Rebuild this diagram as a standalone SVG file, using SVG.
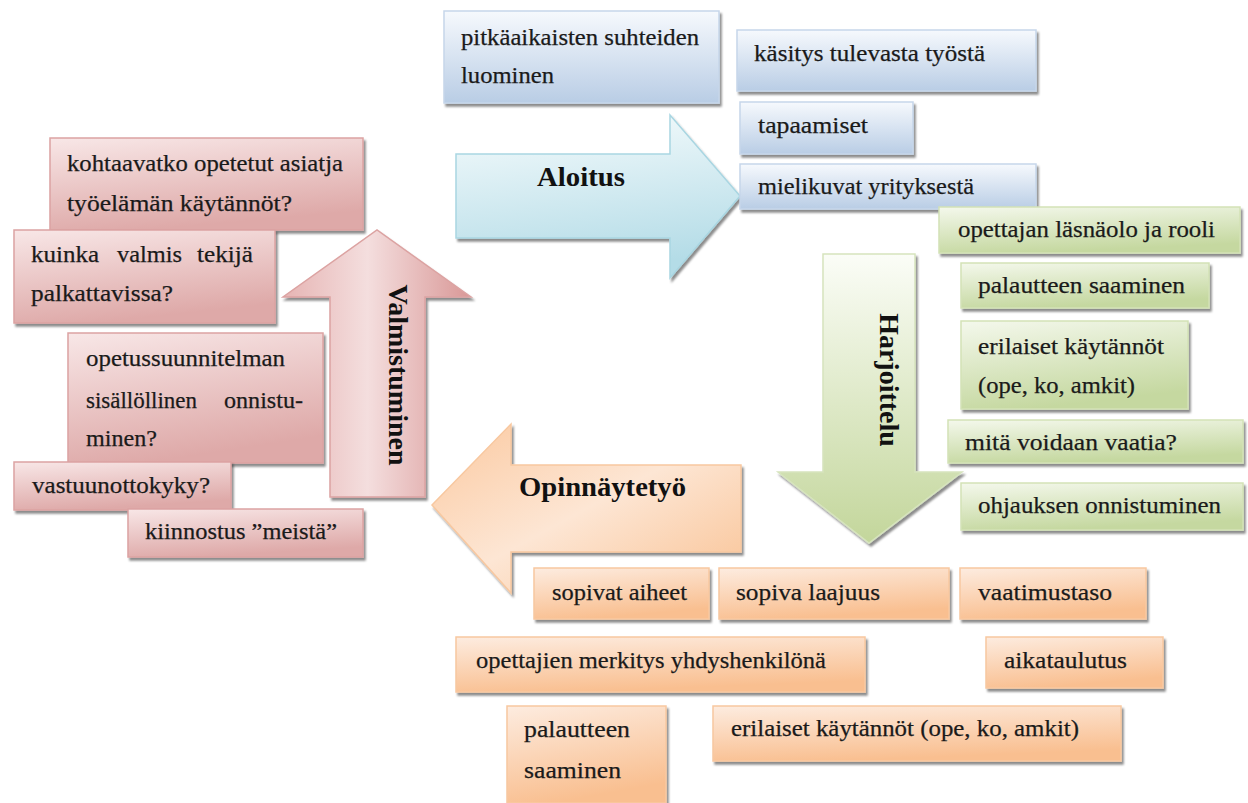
<svg xmlns="http://www.w3.org/2000/svg" width="1248" height="803" viewBox="0 0 1248 803">
<defs>
<filter id="sh" x="-10%" y="-10%" width="120%" height="130%">
<feDropShadow dx="2" dy="3" stdDeviation="1.2" flood-color="#000" flood-opacity="0.45"/>
</filter>
<linearGradient id="gBlue" x1="0" y1="0" x2="0" y2="1">
<stop offset="0" stop-color="#f6f9fd"/><stop offset="1" stop-color="#b9cde5"/>
</linearGradient>
<linearGradient id="gRed" x1="0" y1="0" x2="0.3" y2="1">
<stop offset="0" stop-color="#f8e7e7"/><stop offset="1" stop-color="#dea9a8"/>
</linearGradient>
<linearGradient id="gGreen" x1="0" y1="0" x2="0.3" y2="1">
<stop offset="0" stop-color="#f4f8ec"/><stop offset="1" stop-color="#c5d8a0"/>
</linearGradient>
<linearGradient id="gOrange" x1="0" y1="0" x2="0.3" y2="1">
<stop offset="0" stop-color="#fdece0"/><stop offset="1" stop-color="#f9bf90"/>
</linearGradient>
<linearGradient id="aBlue" x1="0" y1="0" x2="0.2" y2="1">
<stop offset="0" stop-color="#f7fcfd"/><stop offset="1" stop-color="#b4dce7"/>
</linearGradient>
<linearGradient id="aGreen" x1="0" y1="0" x2="0" y2="1">
<stop offset="0" stop-color="#fbfdf7"/><stop offset="1" stop-color="#c3d69b"/>
</linearGradient>
<linearGradient id="aOrange" x1="0" y1="0" x2="1" y2="1">
<stop offset="0" stop-color="#fbc9a0"/><stop offset="0.5" stop-color="#fde6d4"/><stop offset="1" stop-color="#f9c294"/>
</linearGradient>
<linearGradient id="aRed" x1="0" y1="0" x2="1" y2="0">
<stop offset="0" stop-color="#e6b4b3"/><stop offset="0.45" stop-color="#f4dede"/><stop offset="1" stop-color="#d99897"/>
</linearGradient>
</defs>
<style>
.b{fill:url(#gBlue);stroke:#c6d6ea;stroke-width:1.5;filter:url(#sh)}
.r{fill:url(#gRed);stroke:#dca3a2;stroke-width:1.5;filter:url(#sh)}
.g{fill:url(#gGreen);stroke:#d3e2b6;stroke-width:1.5;filter:url(#sh)}
.o{fill:url(#gOrange);stroke:#f8c8a0;stroke-width:1.5;filter:url(#sh)}
text{font-family:"Liberation Serif","DejaVu Serif",serif}
.t{font-size:24px;font-weight:400;fill:#1a1a1a;stroke:#1a1a1a;stroke-width:0.25}
.l{font-size:28px;font-weight:700;fill:#111}
</style>

<g id="connectors">
<polygon id="arrow-aloitus" points="456,154 670,154 670,115 740,196 670,278 670,238 456,238" fill="url(#aBlue)" stroke="#a9d6e2" stroke-width="1.5" filter="url(#sh)"/>
<polygon id="arrow-harjoittelu" points="823,254 915,254 915,472 962,472 869,543 778,472 823,472" fill="url(#aGreen)" stroke="#d6e4bd" stroke-width="1.5" filter="url(#sh)"/>
<polygon id="arrow-opinnaytetyo" points="741,465 511,465 511,424 432,505 511,593 511,552 741,552" fill="url(#aOrange)" stroke="#f8c8a0" stroke-width="1.5" filter="url(#sh)"/>
<polygon id="arrow-valmistuminen" points="330,497 330,297 283,297 377,230 471,297 425,297 425,497" fill="url(#aRed)" stroke="#dca3a2" stroke-width="1.5" filter="url(#sh)"/>
<text class="l" x="537" y="186" textLength="88" lengthAdjust="spacingAndGlyphs">Aloitus</text>
<text class="l" transform="translate(880,380) rotate(90)" text-anchor="middle" x="0" y="0">Harjoittelu</text>
<text class="l" x="519" y="496" textLength="167" lengthAdjust="spacingAndGlyphs">Opinnäytetyö</text>
<text class="l" transform="translate(389,375) rotate(90)" text-anchor="middle" x="0" y="0">Valmistuminen</text>
</g>

<g id="b1"><rect class="b" x="444" y="11" width="275" height="92"/>
<text class="t" x="461" y="45" textLength="238" lengthAdjust="spacingAndGlyphs">pitkäaikaisten suhteiden</text>
<text class="t" x="461" y="83" textLength="93" lengthAdjust="spacingAndGlyphs">luominen</text></g>
<g id="b2"><rect class="b" x="737" y="30" width="299" height="61"/>
<text class="t" x="754" y="61" textLength="231" lengthAdjust="spacingAndGlyphs">käsitys tulevasta työstä</text></g>
<g id="b3"><rect class="b" x="740" y="102" width="173" height="52"/>
<text class="t" x="758" y="133" textLength="110" lengthAdjust="spacingAndGlyphs">tapaamiset</text></g>
<g id="b4"><rect class="b" x="740" y="164" width="296" height="45"/>
<text class="t" x="758" y="194" textLength="216" lengthAdjust="spacingAndGlyphs">mielikuvat yrityksestä</text></g>

<g id="g1"><rect class="g" x="939" y="207" width="301" height="46"/>
<text class="t" x="958" y="237" textLength="257" lengthAdjust="spacingAndGlyphs">opettajan läsnäolo ja rooli</text></g>
<g id="g2"><rect class="g" x="961" y="263" width="248" height="45"/>
<text class="t" x="978" y="293" textLength="207" lengthAdjust="spacingAndGlyphs">palautteen saaminen</text></g>
<g id="g3"><rect class="g" x="961" y="321" width="227" height="88"/>
<text class="t" x="978" y="354" textLength="186" lengthAdjust="spacingAndGlyphs">erilaiset käytännöt</text>
<text class="t" x="978" y="393" textLength="157" lengthAdjust="spacingAndGlyphs">(ope, ko, amkit)</text></g>
<g id="g4"><rect class="g" x="948" y="420" width="295" height="43"/>
<text class="t" x="965" y="450" textLength="212" lengthAdjust="spacingAndGlyphs">mitä voidaan vaatia?</text></g>
<g id="g5"><rect class="g" x="961" y="483" width="282" height="47"/>
<text class="t" x="978" y="513" textLength="243" lengthAdjust="spacingAndGlyphs">ohjauksen onnistuminen</text></g>

<g id="o1"><rect class="o" x="534" y="568" width="175" height="51"/>
<text class="t" x="552" y="600" textLength="135" lengthAdjust="spacingAndGlyphs">sopivat aiheet</text></g>
<g id="o2"><rect class="o" x="719" y="568" width="230" height="51"/>
<text class="t" x="736" y="600" textLength="144" lengthAdjust="spacingAndGlyphs">sopiva laajuus</text></g>
<g id="o3"><rect class="o" x="960" y="568" width="186" height="51"/>
<text class="t" x="978" y="600" textLength="134" lengthAdjust="spacingAndGlyphs">vaatimustaso</text></g>
<g id="o4"><rect class="o" x="456" y="637" width="409" height="55"/>
<text class="t" x="476" y="668" textLength="350" lengthAdjust="spacingAndGlyphs">opettajien merkitys yhdyshenkilönä</text></g>
<g id="o5"><rect class="o" x="986" y="637" width="177" height="51"/>
<text class="t" x="1004" y="668" textLength="123" lengthAdjust="spacingAndGlyphs">aikataulutus</text></g>
<g id="o6"><rect class="o" x="507" y="706" width="159" height="97"/>
<text class="t" x="524" y="737" textLength="106" lengthAdjust="spacingAndGlyphs">palautteen</text>
<text class="t" x="524" y="778" textLength="97" lengthAdjust="spacingAndGlyphs">saaminen</text></g>
<g id="o7"><rect class="o" x="713" y="706" width="408" height="55"/>
<text class="t" x="731" y="736" textLength="348" lengthAdjust="spacingAndGlyphs">erilaiset käytännöt (ope, ko, amkit)</text></g>

<g id="r1"><rect class="r" x="50" y="138" width="313" height="92"/>
<text class="t" x="67" y="171" textLength="276" lengthAdjust="spacingAndGlyphs">kohtaavatko opetetut asiatja</text>
<text class="t" x="67" y="211" textLength="225" lengthAdjust="spacingAndGlyphs">työelämän käytännöt?</text></g>
<g id="r2"><rect class="r" x="14" y="230" width="261" height="93"/>
<text class="t" x="31" y="262" textLength="68" lengthAdjust="spacingAndGlyphs">kuinka</text>
<text class="t" x="117" y="262" textLength="65" lengthAdjust="spacingAndGlyphs">valmis</text>
<text class="t" x="197" y="262" textLength="56" lengthAdjust="spacingAndGlyphs">tekijä</text>
<text class="t" x="31" y="301" textLength="142" lengthAdjust="spacingAndGlyphs">palkattavissa?</text></g>
<g id="r3"><rect class="r" x="68" y="333" width="255" height="130"/>
<text class="t" x="86" y="366" textLength="199" lengthAdjust="spacingAndGlyphs">opetussuunnitelman</text>
<text class="t" x="86" y="408" textLength="111" lengthAdjust="spacingAndGlyphs">sisällöllinen</text>
<text class="t" x="224" y="408" textLength="79" lengthAdjust="spacingAndGlyphs">onnistu-</text>
<text class="t" x="86" y="446" textLength="71" lengthAdjust="spacingAndGlyphs">minen?</text></g>
<g id="r4"><rect class="r" x="14" y="462" width="217" height="48"/>
<text class="t" x="32" y="493" textLength="178" lengthAdjust="spacingAndGlyphs">vastuunottokyky?</text></g>
<g id="r5"><rect class="r" x="128" y="509" width="235" height="48"/>
<text class="t" x="145" y="539" textLength="192" lengthAdjust="spacingAndGlyphs">kiinnostus ”meistä”</text></g>
</svg>
